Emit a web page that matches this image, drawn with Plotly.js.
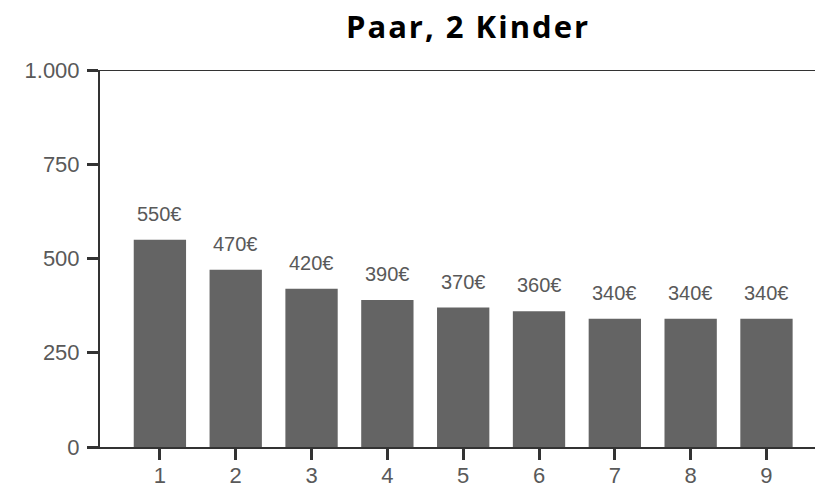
<!DOCTYPE html>
<html>
<head>
<meta charset="utf-8">
<script src="https://cdn.plot.ly/plotly-3.0.1.min.js"></script>
<style>html,body{margin:0;padding:0;background:#fff;}#chart{width:815px;height:488px;}
#chart .gtitle{letter-spacing:2px;}</style>
</head>
<body>
<div id="chart"></div>
<script>
const categories = [1, 2, 3, 4, 5, 6, 7, 8, 9];
const values = [550, 470, 420, 390, 370, 360, 340, 340, 340];
const labels = ["550€", "470€", "420€", "390€", "370€", "360€", "340€", "340€", "340€"];
const yTicks = [0, 250, 500, 750, 1000];
const titleText = "Paar, 2 Kinder";

const trace = {
  type: 'bar',
  x: categories,
  y: values,
  width: 0.69,
  marker: {color: '#646464', line: {width: 0}},
  hoverinfo: 'skip'
};

const annotations = categories.map((c, i) => ({
  x: c, y: values[i], xref: 'x', yref: 'y',
  text: labels[i], showarrow: false,
  yanchor: 'bottom', xanchor: 'center', yshift: 13,
  font: {family: 'Liberation Sans, Arial, sans-serif', size: 20, color: '#595959'}
}));

const layout = {
  width: 815, height: 488,
  margin: {l: 100, r: 0, t: 70, b: 41, pad: 0},
  paper_bgcolor: '#ffffff', plot_bgcolor: '#ffffff',
  separators: ',.',
  showlegend: false,
  title: {
    text: titleText,
    font: {family: 'Open Sans, sans-serif', size: 31, color: '#000000', weight: 'bold'},
    x: 468/815, xanchor: 'center', xref: 'container',
    y: 1 - 27.5/488, yanchor: 'middle', yref: 'container'
  },
  xaxis: {
    range: [0.21, 9.64],
    tickmode: 'array', tickvals: categories, ticktext: categories.map(String),
    ticks: 'outside', ticklen: 11, tickwidth: 3, tickcolor: '#333333',
    ticklabelstandoff: -3,
    showline: true, linecolor: '#333333', linewidth: 2,
    showgrid: false, zeroline: false,
    tickfont: {family: 'Liberation Sans, Arial, sans-serif', size: 22, color: '#595959'}
  },
  yaxis: {
    range: [0, 1000],
    tickmode: 'array', tickvals: yTicks, tickformat: ',d',
    ticks: 'outside', ticklen: 11, tickwidth: 3, tickcolor: '#333333',
    ticklabelstandoff: 3,
    showline: true, linecolor: '#333333', linewidth: 2,
    showgrid: false, zeroline: false,
    tickfont: {family: 'Liberation Sans, Arial, sans-serif', size: 22, color: '#595959'}
  },
  shapes: [{
    type: 'line', xref: 'paper', yref: 'y', x0: 0, x1: 1, y0: 1000, y1: 1000,
    line: {color: '#333333', width: 2}
  }],
  annotations: annotations
};

Plotly.newPlot('chart', [trace], layout, {displayModeBar: false, staticPlot: true});
</script>
</body>
</html>
